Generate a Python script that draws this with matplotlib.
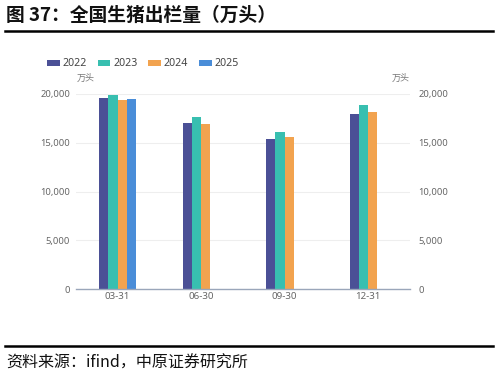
import matplotlib
matplotlib.use("Agg")
import matplotlib.pyplot as plt
from matplotlib.lines import Line2D
import numpy as np

plt.rcParams['font.family'] = ['Noto Sans CJK SC', 'DejaVu Sans']

categories = ["03-31", "06-30", "09-30", "12-31"]
years = ["2022", "2023", "2024", "2025"]
v2022 = [19560, 17000, 15420, 17920]
v2023 = [19870, 17610, 16140, 18900]
v2024 = [19420, 16930, 15630, 18190]
v2025 = [19460, None, None, None]
series = [v2022, v2023, v2024, v2025]
colors = ["#4B5096", "#38BFB0", "#F2A34F", "#4A8DD8"]
yticks = [0, 5000, 10000, 15000, 20000]

W, H = 499, 391
fig = plt.figure(figsize=(W / 100, H / 100), dpi=100)
ax = fig.add_axes([75.75 / W, 1 - 289.3 / H, (410 - 75.75) / W, (289.3 - 94) / H])

x = np.arange(len(categories))
bw = 0.111
for i, (vals, c, yr) in enumerate(zip(series, colors, years)):
    xs = [xx + (i - 1.5) * bw for xx, v in zip(x, vals) if v is not None]
    vs = [v for v in vals if v is not None]
    ax.bar(xs, vs, width=bw, color=c, label=yr, zorder=3, linewidth=0)

ax.set_xlim(-0.5, len(categories) - 0.5)
ax.set_ylim(0, 20000)
ax.set_yticks(yticks)
ax.set_yticklabels([f"{t:,}" for t in yticks], family=['Noto Sans', 'DejaVu Sans'], fontsize=6.8, color="#666666")
ax.set_xticks(x)
ax.set_xticklabels(categories, family=['Noto Sans', 'DejaVu Sans'], fontsize=7, color="#666666")
ax.tick_params(axis='y', length=0, pad=4)
ax.tick_params(axis='x', length=0, pad=2)
ax.grid(axis='y', color="#EEEEEE", linewidth=0.8, zorder=0)
for s in ["top", "right", "left"]:
    ax.spines[s].set_visible(False)
ax.spines["bottom"].set_color("#9AA6BA")
ax.spines["bottom"].set_linewidth(1.0)
ax.spines["bottom"].set_zorder(4)

ax2 = ax.twinx()
ax2.set_ylim(0, 20000)
ax2.set_yticks(yticks)
ax2.set_yticklabels([f"{t:,}" for t in yticks], family=['Noto Sans', 'DejaVu Sans'], fontsize=6.8, color="#666666")
ax2.tick_params(axis='y', length=0, pad=6)
for s in ax2.spines.values():
    s.set_visible(False)

fig.text(86 / W, 1 - 78 / H, "万头", fontsize=6.5, color="#777777", ha="center", va="center")
fig.text(401 / W, 1 - 78 / H, "万头", fontsize=6.5, color="#777777", ha="center", va="center")

handles, labels = ax.get_legend_handles_labels()
leg = fig.legend(handles, labels, loc="center left", bbox_to_anchor=(47 / W, 1 - 64 / H),
                 ncol=4, frameon=False, handlelength=1.2, handleheight=0.5,
                 handletextpad=0.25, columnspacing=1.05, borderpad=0, borderaxespad=0,
                 prop={'family': ['Noto Sans', 'DejaVu Sans'], 'size': 7.6})
for t in leg.get_texts():
    t.set_color("#444444")

fig.text(6 / W, 1 - 15 / H, "图 37：全国生猪出栏量（万头）", fontsize=13.5, fontweight="bold",
         color="#111111", ha="left", va="center")
fig.add_artist(Line2D([5 / W, 493 / W], [1 - 31 / H, 1 - 31 / H], color="black", linewidth=1.8))
fig.add_artist(Line2D([5 / W, 493 / W], [1 - 345.5 / H, 1 - 345.5 / H], color="black", linewidth=1.8))
fig.text(6 / W, 1 - 363 / H, "资料来源：ifind，中原证券研究所", fontsize=11.5, color="#111111",
         ha="left", va="center")

fig.savefig("out.png", dpi=100, facecolor="white")
